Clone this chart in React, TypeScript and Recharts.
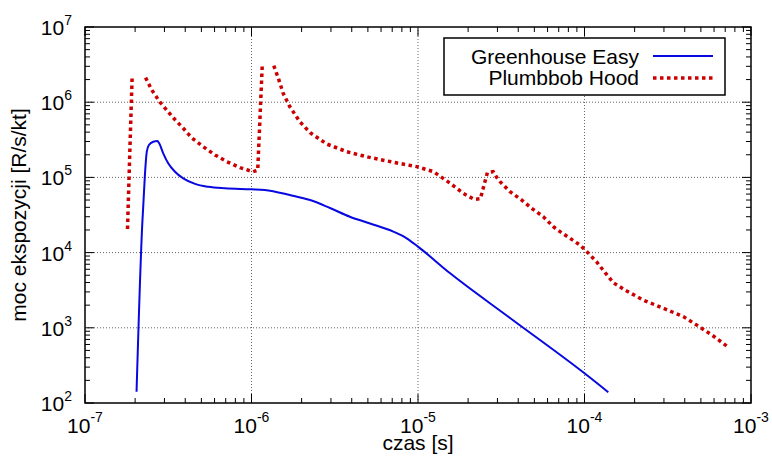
import { LineChart, Line, XAxis, YAxis, ReferenceLine, ReferenceArea, Legend } from "recharts"

// Greenhouse Easy – czas [s] i moc ekspozycji [R/s/kt]
const greenhouseTime = [
  2.04e-7, 2.21e-7, 2.24e-7, 2.29e-7, 2.35e-7, 2.42e-7, 2.57e-7, 2.72e-7, 2.79e-7,
  2.95e-7, 3.16e-7, 3.47e-7, 3.89e-7, 4.58e-7, 5.5e-7, 6.93e-7, 1e-6, 1.2e-6, 1.7e-6,
  2.25e-6, 2.96e-6, 3.9e-6, 5.15e-6, 7.11e-6, 8.55e-6, 1.0e-5, 1.56e-5, 3.57e-5, 1e-4, 1.39e-4,
]
const greenhouseRate = [
  141, 2.5e4, 4.3e4, 1.08e5, 2.2e5, 2.7e5, 2.98e5, 3.05e5, 2.84e5,
  2.09e5, 1.54e5, 1.19e5, 9.7e4, 8.2e4, 7.5e4, 7.16e4, 6.95e4, 6.8e4, 5.83e4,
  5.0e4, 3.92e4, 3.0e4, 2.44e4, 1.9e4, 1.55e4, 1.2e4, 5.3e3, 1.35e3, 248, 139,
]

// Plumbbob Hood – null przerywa krzywą
const plumbbobTime = [
  1.8e-7, 1.86e-7, 1.92e-7, 2.1e-7,
  2.31e-7, 2.52e-7, 2.82e-7, 3.39e-7, 3.89e-7, 4.37e-7, 5.13e-7, 6.04e-7, 7.1e-7,
  8.53e-7, 1.02e-6, 1.09e-6, 1.16e-6, 1.26e-6,
  1.36e-6, 1.45e-6, 1.55e-6, 1.7e-6, 1.95e-6, 2.25e-6, 2.83e-6, 3.73e-6, 4.92e-6,
  7.11e-6, 9.83e-6, 1.24e-5, 1.56e-5, 1.87e-5, 2.17e-5, 2.37e-5, 2.61e-5, 2.83e-5,
  2.98e-5, 3.11e-5, 3.57e-5, 4.2e-5, 4.82e-5, 5.66e-5, 6.5e-5, 7.13e-5, 8.18e-5,
  9.4e-5, 1.02e-4, 1.18e-4, 1.33e-4, 1.49e-4, 1.75e-4, 2.25e-4, 2.97e-4, 3.92e-4,
  4.94e-4, 5.94e-4, 7.31e-4,
]
const plumbbobRate = [
  2.06e4, 2.31e5, 2.23e6, null,
  2.12e6, 1.45e6, 1.0e6, 6.2e5, 4.5e5, 3.37e5, 2.56e5, 1.99e5, 1.62e5,
  1.35e5, 1.19e5, 1.25e5, 3.06e6, null,
  3.06e6, 2.08e6, 1.31e6, 8.7e5, 5.5e5, 3.93e5, 2.78e5, 2.2e5, 1.88e5,
  1.59e5, 1.39e5, 1.19e5, 8.35e4, 6.15e4, 5.11e4, 5.2e4, 1.16e5, 1.19e5,
  9.9e4, 8.77e4, 6.46e4, 5.0e4, 3.88e4, 3.0e4, 2.21e4, 1.9e4, 1.55e4,
  1.26e4, 1.06e4, 7.57e3, 5.41e3, 3.98e3, 3.18e3, 2.34e3, 1.82e3, 1.41e3,
  1.02e3, 778, 551,
]

const xDecades = [-7, -6, -5, -4, -3]
const yDecades = [2, 3, 4, 5, 6, 7]
const minorSteps = [2, 3, 4, 5, 6, 7, 8, 9]

const series = [
  { name: "Greenhouse Easy", color: "#0808e0", width: 2, dash: undefined as string | undefined },
  { name: "Plumbbob Hood", color: "#cc0000", width: 3.5, dash: "3.5 3.5" },
]

const greenhouse = greenhouseTime.map((t, i) => ({ t, v: greenhouseRate[i] }))
const plumbbob = plumbbobTime.map((t, i) => ({ t, v: plumbbobRate[i] }))

const logTicks = (decades: number[]) =>
  decades.flatMap((d, i) => {
    const base = Number(`1e${d}`)
    return i === decades.length - 1 ? [base] : [base, ...minorSteps.map((m) => m * base)]
  })

const xTicks = logTicks(xDecades)
const yTicks = logTicks(yDecades)

const W = 772
const H = 457
const PLOT = { left: 85, right: 751, top: 27, bottom: 403 }
const FONT = 21

const isMajor = (v: number) => {
  const e = Math.log10(v)
  return Math.abs(e - Math.round(e)) < 1e-6
}

function XTick(props: any) {
  const { x, payload } = props
  const major = isMajor(payload.value)
  const len = major ? 9 : 5
  return (
    <g>
      <line x1={x} x2={x} y1={PLOT.bottom} y2={PLOT.bottom - len} stroke="#000" />
      <line x1={x} x2={x} y1={PLOT.top} y2={PLOT.top + len} stroke="#000" />
      {major && (
        <text x={x} y={PLOT.bottom + 30} textAnchor="middle" fontSize={FONT} fill="#000">
          10
          <tspan dy={-11} fontSize={14}>
            {Math.round(Math.log10(payload.value))}
          </tspan>
        </text>
      )}
    </g>
  )
}

function YTick(props: any) {
  const { y, payload } = props
  const major = isMajor(payload.value)
  const len = major ? 9 : 5
  return (
    <g>
      <line x1={PLOT.left} x2={PLOT.left + len} y1={y} y2={y} stroke="#000" />
      <line x1={PLOT.right} x2={PLOT.right - len} y1={y} y2={y} stroke="#000" />
      {major && (
        <text x={72} y={y + 8} textAnchor="end" fontSize={FONT} fill="#000">
          10
          <tspan dy={-10} fontSize={14}>
            {Math.round(Math.log10(payload.value))}
          </tspan>
        </text>
      )}
    </g>
  )
}

function XTitle() {
  return (
    <text x={(PLOT.left + PLOT.right) / 2} y={450} textAnchor="middle" fontSize={FONT} fill="#000">
      czas [s]
    </text>
  )
}

function YTitle() {
  return (
    <text
      transform={`translate(25.5, ${(PLOT.top + PLOT.bottom) / 2}) rotate(-90)`}
      textAnchor="middle"
      fontSize={FONT}
      fill="#000"
    >
      moc ekspozycji [R/s/kt]
    </text>
  )
}

function LegendBox() {
  return (
    <svg width={284} height={60} style={{ display: "block" }}>
      <rect x={1} y={1} width={281} height={57} fill="#fff" stroke="#000" strokeWidth={1.5} />
      {series.map((s, i) => (
        <g key={s.name}>
          <text x={196} y={26.5 + i * 21.5} textAnchor="end" fontSize={FONT} fill="#000">
            {s.name}
          </text>
          <line
            x1={210}
            x2={270}
            y1={19 + i * 22}
            y2={19 + i * 22}
            stroke={s.color}
            strokeWidth={s.width}
            strokeDasharray={s.dash}
          />
        </g>
      ))}
    </svg>
  )
}

export default function App() {
  const gridX = xDecades.slice(1, -1).map((d) => Number(`1e${d}`))
  const gridY = yDecades.slice(1, -1).map((d) => Number(`1e${d}`))
  return (
    <div
      style={{
        position: "absolute",
        left: 0,
        top: 0,
        width: W,
        height: H,
        background: "#fff",
        fontFamily: "'Liberation Sans', Arial, sans-serif",
      }}
    >
      <LineChart width={W} height={H} margin={{ top: PLOT.top, right: W - PLOT.right, bottom: 0, left: 0 }}>
        <XAxis
          dataKey="t"
          type="number"
          scale="log"
          domain={[1e-7, 1e-3]}
          allowDataOverflow
          ticks={xTicks}
          interval={0}
          height={H - PLOT.bottom}
          axisLine={false}
          tickLine={false}
          tick={XTick}
          label={{ content: () => <XTitle /> }}
        />
        <YAxis
          type="number"
          scale="log"
          domain={[1e2, 1e7]}
          allowDataOverflow
          ticks={yTicks}
          interval={0}
          width={PLOT.left}
          axisLine={false}
          tickLine={false}
          tick={YTick}
          label={{ content: () => <YTitle /> }}
        />
        {gridX.map((v) => (
          <ReferenceLine key={`gx${v}`} x={v} stroke="#666" strokeDasharray="1 2" />
        ))}
        {gridY.map((v) => (
          <ReferenceLine key={`gy${v}`} y={v} stroke="#666" strokeDasharray="1 2" />
        ))}
        <ReferenceArea x1={1e-7} x2={1e-3} y1={1e2} y2={1e7} fill="none" fillOpacity={0} stroke="#000" strokeWidth={1.5} />
        <Line
          data={greenhouse}
          dataKey="v"
          name={series[0].name}
          type="monotone"
          stroke={series[0].color}
          strokeWidth={series[0].width}
          dot={false}
          isAnimationActive={false}
        />
        <Line
          data={plumbbob}
          dataKey="v"
          name={series[1].name}
          type="linear"
          stroke={series[1].color}
          strokeWidth={series[1].width}
          strokeDasharray={series[1].dash}
          dot={false}
          isAnimationActive={false}
        />
        <Legend
          layout="vertical"
          align="center"
          verticalAlign="middle"
          wrapperStyle={{ top: 37, left: 443, width: 284, height: 60 }}
          content={() => <LegendBox />}
        />
      </LineChart>
    </div>
  )
}
